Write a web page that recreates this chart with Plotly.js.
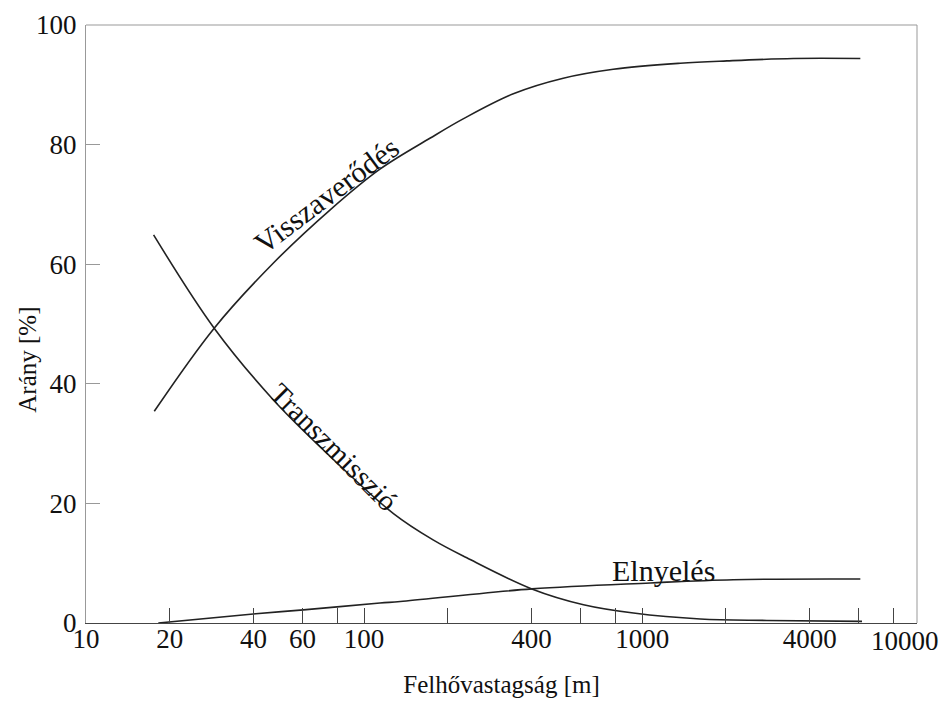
<!DOCTYPE html>
<html>
<head>
<meta charset="utf-8">
<script src="https://cdn.plot.ly/plotly-3.0.1.min.js"></script>
<style>html,body{margin:0;padding:0;background:#fff;}#chart{width:946px;height:707px;}</style>
</head>
<body>
<div id="chart"></div>
<script>
// Felhővastagság [m] vs Arány [%]
const reflX = [17.6, 28.9, 47.2, 75.5, 114, 173, 227, 344, 520, 787, 1370, 2017, 3493, 6085];
const reflY = [35.4, 49.3, 60.2, 69.1, 75.9, 81.1, 84.3, 88.5, 91.1, 92.6, 93.6, 94.0, 94.4, 94.4];

const transX = [17.5, 28.9, 47.2, 73.4, 127.5, 177, 234, 401, 615, 930, 1617, 2809, 6170];
const transY = [64.9, 49.3, 37.3, 28.4, 18.3, 13.9, 10.9, 5.7, 3.06, 1.67, 0.67, 0.43, 0.27];

const absX = [18.2, 40.8, 60.5, 114, 135, 401, 1069, 2125, 6085];
const absY = [0.0, 1.55, 2.2, 3.34, 3.6, 5.7, 6.7, 7.24, 7.35];

const xTickVals = [10, 20, 40, 60, 80, 100, 200, 400, 600, 800, 1000, 2000, 4000, 6000, 8000];
const xTickText = ['10', '20', '40', '60', '', '100', '', '400', '', '', '1000', '', '4000', '', ''];
const yTickVals = [0, 20, 40, 60, 80, 100];

const serif = 'Liberation Serif, Times New Roman, serif';
const lineStyle = {color: '#222', width: 1.6, shape: 'spline', smoothing: 1.0};

const traces = [
  {x: reflX, y: reflY, mode: 'lines', line: lineStyle, name: 'Visszaverődés', hoverinfo: 'skip'},
  {x: transX, y: transY, mode: 'lines', line: lineStyle, name: 'Transzmisszió', hoverinfo: 'skip'},
  {x: absX, y: absY, mode: 'lines', line: lineStyle, name: 'Elnyelés', hoverinfo: 'skip'}
];

const layout = {
  width: 946, height: 707,
  margin: {l: 86, r: 29, t: 25, b: 84},
  paper_bgcolor: '#fff', plot_bgcolor: '#fff',
  showlegend: false,
  font: {family: serif, color: '#111', size: 27},
  xaxis: {
    type: 'log', range: [1, 3.988],
    tickmode: 'array', tickvals: xTickVals, ticktext: xTickText,
    ticks: 'inside', ticklen: 15, tickwidth: 1, tickcolor: '#444',
    ticklabelstandoff: -8,
    showline: true, linecolor: '#444', linewidth: 1,
    showgrid: false, zeroline: false,
    tickfont: {family: serif, size: 27, color: '#111'},
    title: {text: 'Felhővastagság [m]', font: {family: serif, size: 25, color: '#111'}, standoff: 22}
  },
  yaxis: {
    range: [0, 100],
    tickmode: 'array', tickvals: yTickVals,
    ticks: 'inside', ticklen: 14, tickwidth: 1, tickcolor: '#999',
    ticklabelstandoff: 3,
    showline: true, linecolor: '#999', linewidth: 1,
    showgrid: false, zeroline: false,
    tickfont: {family: serif, size: 27, color: '#111'}
  },
  shapes: [
    {type: 'line', xref: 'paper', yref: 'paper', x0: 0, x1: 1, y0: 1, y1: 1, line: {color: '#999', width: 1}},
    {type: 'line', xref: 'paper', yref: 'paper', x0: 1, x1: 1, y0: 0, y1: 1, line: {color: '#999', width: 1}}
  ],
  annotations: [
    {text: 'Arány [%]', xref: 'paper', yref: 'paper', x: (28 - 86) / 831, y: (623.3 - 360) / 598, xanchor: 'center', yanchor: 'middle', textangle: -90, showarrow: false, font: {family: serif, size: 25, color: '#111'}},
    {text: '10000', xref: 'paper', yref: 'paper', x: (905 - 86) / 831, y: -0.001, xanchor: 'center', yanchor: 'top', showarrow: false, font: {family: serif, size: 27, color: '#111'}},
    {text: 'Visszaverődés', xref: 'paper', yref: 'paper', x: (326 - 86) / 831, y: (623.3 - 196) / 598, xanchor: 'center', yanchor: 'middle', textangle: -37, showarrow: false, font: {family: serif, size: 30, color: '#111'}},
    {text: 'Transzmisszió', xref: 'paper', yref: 'paper', x: (334 - 86) / 831, y: (623.3 - 447) / 598, xanchor: 'center', yanchor: 'middle', textangle: 45, showarrow: false, font: {family: serif, size: 29, color: '#111'}},
    {text: 'Elnyelés', xref: 'paper', yref: 'paper', x: (663 - 86) / 831, y: (623.3 - 571) / 598, xanchor: 'center', yanchor: 'middle', showarrow: false, font: {family: serif, size: 30, color: '#111'}}
  ]
};

Plotly.newPlot('chart', traces, layout, {displayModeBar: false, staticPlot: true});
</script>
</body>
</html>
